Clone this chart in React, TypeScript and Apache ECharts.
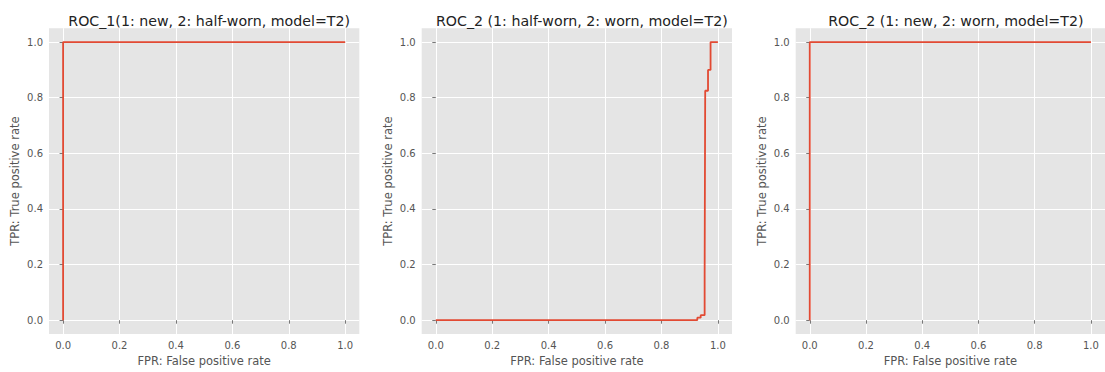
import React, { useEffect, useRef } from "react";
import * as echarts from "echarts";

const titles = [
  "ROC_1(1: new, 2: half-worn, model=T2)",
  "ROC_2 (1: half-worn, 2: worn, model=T2)",
  "ROC_2 (1: new, 2: worn, model=T2)",
];
const xName = "FPR: False positive rate";
const yName = "TPR: True positive rate";
const tickValues = [0, 0.2, 0.4, 0.6, 0.8, 1.0];

const roc1: [number, number][] = [
  [0, 0],
  [0, 1],
  [1, 1],
];
const roc2: [number, number][] = [
  [0, 0],
  [0.927, 0],
  [0.927, 0.009],
  [0.939, 0.009],
  [0.939, 0.018],
  [0.953, 0.018],
  [0.953, 0.165],
  [0.955, 0.165],
  [0.955, 0.825],
  [0.965, 0.825],
  [0.965, 0.9],
  [0.974, 0.9],
  [0.974, 1],
  [1, 1],
];
const roc3: [number, number][] = [
  [0, 0],
  [0, 1],
  [1, 1],
];
const curves = [roc1, roc2, roc3];

const gridLefts = [49, 421.7, 795.7];
const gridWidth = 310.3;

export default function App() {
  const ref = useRef<HTMLDivElement>(null);
  useEffect(() => {
    if (!ref.current) return;
    const chart = echarts.init(ref.current, null, { renderer: "svg" });
    const font = "DejaVu Sans";
    const grids = gridLefts.map((l) => ({
      left: l,
      top: 28.2,
      width: gridWidth,
      height: 310.2,
      show: true,
      backgroundColor: "#E5E5E5",
      borderWidth: 0,
      containLabel: false,
    }));
    const axisCommon = {
      type: "value" as const,
      min: -0.05,
      max: 1.05,
      nameLocation: "middle" as const,
      nameTextStyle: { color: "#555555", fontSize: 11.5, fontFamily: font },
      axisLine: { show: false },
      axisTick: {
        show: true,
        length: 3.5,
        lineStyle: { color: "#555555", width: 0.8 },
        customValues: tickValues,
      },
      axisLabel: {
        color: "#555555",
        fontSize: 10,
        fontFamily: font,
        margin: 6,
        customValues: tickValues,
        formatter: (v: number) => v.toFixed(1),
      },
      splitLine: { show: true, lineStyle: { color: "#FFFFFF", width: 1 } },
    };
    const xAxes = gridLefts.map((_, i) => ({
      ...axisCommon,
      gridIndex: i,
      name: xName,
      nameGap: 19,
    }));
    const yAxes = gridLefts.map((_, i) => ({
      ...axisCommon,
      gridIndex: i,
      name: yName,
      nameGap: 28,
    }));
    const series = curves.map((c, i) => ({
      type: "line" as const,
      xAxisIndex: i,
      yAxisIndex: i,
      data: c,
      showSymbol: false,
      symbol: "none",
      lineStyle: { color: "#E24A33", width: 1.8 },
      clip: false,
    }));
    const title = titles.map((t, i) => ({
      text: t,
      left: gridLefts[i] + gridWidth / 2,
      top: 9,
      textAlign: "center" as const,
      textStyle: { color: "#222222", fontSize: 14.2, fontWeight: "normal" as const, fontFamily: font },
    }));
    chart.setOption({
      animation: false,
      backgroundColor: "#FFFFFF",
      title,
      grid: grids,
      xAxis: xAxes,
      yAxis: yAxes,
      series,
    });
    return () => chart.dispose();
  }, []);
  return (
    <div
      ref={ref}
      style={{ position: "fixed", left: 0, top: 0, width: 1105, height: 372 }}
    />
  );
}
